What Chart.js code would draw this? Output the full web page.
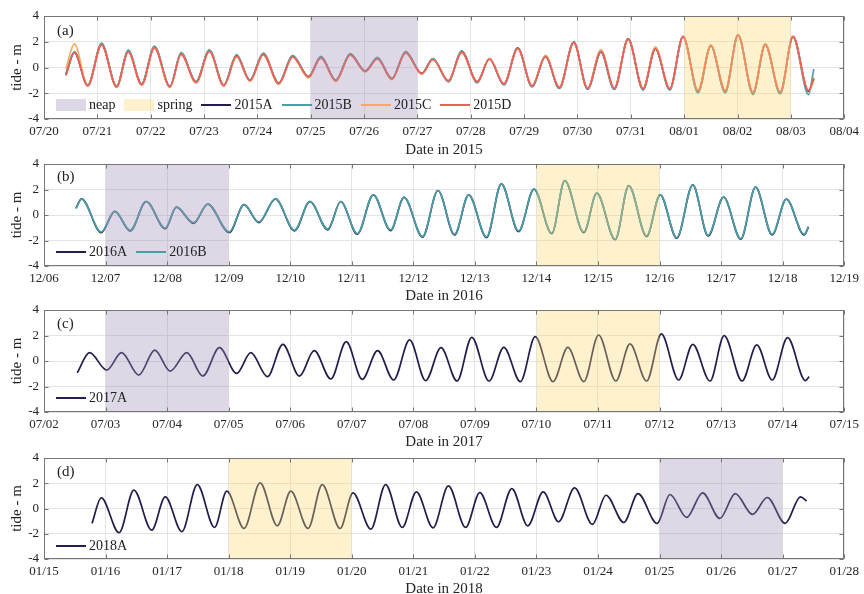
<!DOCTYPE html>
<html>
<head>
<meta charset="utf-8">
<script src="https://cdn.jsdelivr.net/npm/chart.js@4/dist/chart.umd.min.js"></script>
<style>
  body { margin: 0; width: 864px; height: 594px; overflow: hidden; background: #fff; position: relative;
         font-family: "Liberation Serif", "Times New Roman", serif; color: #222; }
  canvas { position: absolute; left: 0; }
  .tag { position: absolute; left: 57px; font-size: 15px; line-height: 16px; }
  .legend { position: absolute; left: 56px; display: flex; align-items: center; gap: 9px;
            font-size: 14px; height: 16px; line-height: 16px; }
  .item { display: flex; align-items: center; }
  .sw { display: inline-block; width: 30px; margin-right: 3px; }
</style>
</head>
<body>
<canvas id="pa" width="864" height="158" style="top:0px"></canvas>
<canvas id="pb" width="864" height="156" style="top:148px"></canvas>
<canvas id="pc" width="864" height="156" style="top:294px"></canvas>
<canvas id="pd" width="864" height="155" style="top:442px"></canvas>
<div class="tag" style="top:22px">(a)</div>
<div class="tag" style="top:168px">(b)</div>
<div class="tag" style="top:315px">(c)</div>
<div class="tag" style="top:463px">(d)</div>
<script>
// tick labels (one per day)
const daysA = ['07/20','07/21','07/22','07/23','07/24','07/25','07/26','07/27','07/28','07/29','07/30','07/31','08/01','08/02','08/03','08/04'];
const daysB = ['12/06','12/07','12/08','12/09','12/10','12/11','12/12','12/13','12/14','12/15','12/16','12/17','12/18','12/19'];
const daysC = ['07/02','07/03','07/04','07/05','07/06','07/07','07/08','07/09','07/10','07/11','07/12','07/13','07/14','07/15'];
const daysD = ['01/15','01/16','01/17','01/18','01/19','01/20','01/21','01/22','01/23','01/24','01/25','01/26','01/27','01/28'];

// neap / spring periods, days from first tick
const neapA = [5, 7], springA = [12, 14];
const neapB = [1, 3], springB = [8, 10];
const neapC = [1, 3], springC = [8, 10];
const springD = [3, 5], neapD = [10, 12];

// 2015: high / low water times (days after 07/20) and levels (m)
const tA = [0.41,0.57,0.82,1.08,1.36,1.58,1.83,2.07,2.36,2.57,2.85,3.10,3.37,3.61,3.86,4.11,4.40,4.66,4.96,5.19,
            5.47,5.74,6.02,6.25,6.52,6.78,7.08,7.29,7.58,7.83,8.12,8.35,8.62,8.88,9.15,9.40,9.66,9.93,10.19,10.44,
            10.69,10.95,11.23,11.46,11.73,11.98,12.26,12.50,12.77,13.01,13.29,13.52,13.80,14.04,14.33,14.43];
const tide2015A = [-0.55,1.18,-1.39,1.80,-1.49,1.27,-1.31,1.58,-1.49,1.08,-1.13,1.32,-1.39,0.92,-1.00,1.06,-1.23,0.88,-0.71,0.80,
                   -1.00,1.02,-0.27,0.71,-0.86,1.18,-0.45,0.68,-1.05,1.25,-1.13,0.68,-1.31,1.53,-1.47,0.88,-1.60,1.98,-1.68,1.22,
                   -1.68,2.22,-1.68,1.47,-1.68,2.40,-1.88,1.69,-1.88,2.52,-2.00,1.80,-1.97,2.40,-1.85,-0.90];
const tide2015B = [-0.50,1.22,-1.36,1.90,-1.45,1.35,-1.28,1.66,-1.45,1.15,-1.10,1.38,-1.36,1.00,-0.98,1.12,-1.20,0.95,-0.70,0.86,
                   -0.98,1.08,-0.26,0.78,-0.88,1.25,-0.50,0.70,-1.12,1.28,-1.20,0.70,-1.36,1.52,-1.50,0.86,-1.62,1.95,-1.68,1.20,
                   -1.70,2.20,-1.75,1.45,-1.75,2.38,-1.98,1.68,-1.98,2.50,-2.10,1.78,-2.05,2.38,-2.10,-0.13];
const tide2015C = [-0.10,1.83,-1.42,1.75,-1.55,1.22,-1.38,1.52,-1.55,1.02,-1.20,1.25,-1.45,0.85,-1.08,0.98,-1.30,0.80,-0.80,0.72,
                   -1.08,0.95,-0.35,0.65,-0.95,1.10,-0.52,0.62,-1.02,1.15,-1.10,0.72,-1.25,1.45,-1.40,0.95,-1.52,1.90,-1.60,1.40,
                   -1.60,2.15,-1.62,1.60,-1.62,2.35,-1.75,1.75,-1.78,2.45,-1.90,1.85,-1.88,2.35,-1.75,-1.05];
const tide2015D = [-0.62,1.15,-1.42,1.75,-1.50,1.22,-1.33,1.52,-1.50,1.02,-1.15,1.25,-1.40,0.88,-1.02,1.02,-1.25,0.82,-0.73,0.75,
                   -1.02,0.98,-0.30,0.68,-0.88,1.15,-0.47,0.62,-1.03,1.20,-1.10,0.65,-1.28,1.48,-1.42,0.85,-1.55,1.95,-1.62,1.25,
                   -1.62,2.20,-1.65,1.45,-1.65,2.42,-1.82,1.70,-1.82,2.55,-1.95,1.78,-1.92,2.42,-1.80,-0.80];

// 2016
const tB = [0.52,0.61,0.93,1.15,1.40,1.66,1.97,2.15,2.43,2.66,3.01,3.25,3.49,3.76,4.07,4.32,4.61,4.82,5.09,5.35,
            5.63,5.85,6.15,6.40,6.67,6.90,7.19,7.43,7.71,7.96,8.25,8.46,8.77,8.98,9.28,9.50,9.79,10.01,10.28,10.54,
            10.79,11.04,11.32,11.56,11.83,12.06,12.35,12.42];
const tide2016A = [0.55,1.27,-1.38,0.29,-1.25,1.06,-1.08,0.62,-0.65,0.86,-1.38,0.81,-0.60,1.27,-1.24,1.06,-1.16,1.06,-1.50,1.58,
                   -1.22,1.38,-1.73,1.92,-1.56,1.58,-1.77,2.44,-1.30,2.03,-1.47,2.70,-1.38,1.71,-1.94,2.31,-1.68,1.58,-1.82,2.36,
                   -1.64,1.40,-1.90,2.18,-1.56,1.25,-1.56,-0.94];
const tide2016B = [0.50,1.25,-1.33,0.30,-1.20,1.06,-1.03,0.62,-0.60,0.86,-1.33,0.81,-0.55,1.27,-1.19,1.06,-1.11,1.06,-1.45,1.58,
                   -1.17,1.38,-1.68,1.92,-1.51,1.58,-1.72,2.44,-1.25,2.03,-1.42,2.70,-1.33,1.71,-1.89,2.31,-1.63,1.58,-1.77,2.36,
                   -1.59,1.40,-1.85,2.18,-1.51,1.25,-1.51,-0.90];

// 2017
const tC = [0.54,0.74,1.02,1.26,1.54,1.80,2.05,2.32,2.58,2.85,3.13,3.36,3.63,3.88,4.15,4.39,4.66,4.91,5.17,5.42,
            5.68,5.94,6.20,6.45,6.71,6.95,7.23,7.47,7.74,7.98,8.27,8.51,8.77,9.01,9.29,9.52,9.79,10.03,10.31,10.54,
            10.82,11.05,11.34,11.58,11.83,12.08,12.37,12.43];
const tide2017A = [-0.92,0.65,-0.71,0.65,-1.10,0.86,-0.79,0.65,-1.18,1.05,-0.97,0.65,-1.23,1.31,-1.18,0.81,-1.41,1.52,-1.44,0.81,
                   -1.49,1.65,-1.54,1.05,-1.57,1.86,-1.57,1.07,-1.62,1.91,-1.62,1.07,-1.62,2.04,-1.57,1.34,-1.57,2.12,-1.49,1.31,
                   -1.57,1.99,-1.57,1.26,-1.49,1.83,-1.54,-1.23];

// 2018
const tD = [0.78,0.93,1.22,1.46,1.75,1.97,2.24,2.49,2.77,2.97,3.25,3.51,3.79,4.01,4.29,4.52,4.81,5.02,5.31,5.55,
            5.82,6.05,6.32,6.57,6.85,7.08,7.35,7.60,7.86,8.11,8.36,8.62,8.91,9.13,9.42,9.65,9.96,10.17,10.44,10.70,
            10.98,11.23,11.51,11.75,12.04,12.29,12.39];
const tide2018A = [-1.18,0.84,-1.92,1.45,-1.71,0.92,-1.84,1.89,-1.50,1.37,-1.58,2.03,-1.37,1.37,-1.58,1.89,-1.58,1.24,-1.63,1.89,
                   -1.50,1.32,-1.53,1.79,-1.50,1.26,-1.50,1.58,-1.37,1.32,-1.05,1.63,-1.26,1.05,-1.11,1.18,-1.18,1.11,-0.71,1.24,
                   -0.79,1.18,-0.47,0.87,-1.18,0.92,0.58];

const NAVY = '#231d4b', TEAL = '#4c9ea6', ORANGE = '#f6ab60', RED = '#ef5f5a';
const NEAP = 'rgba(161,141,181,0.35)', SPRING = 'rgba(249,218,112,0.35)';
const SERIF = '"Liberation Serif", "Times New Roman", serif';
const INK = '#262626';

// box + inward tick marks, like the matlab axes
const frame = {
  id: 'frame',
  afterDraw(chart) {
    const { ctx, chartArea: a, scales: { x, y } } = chart;
    const L = Math.round(a.left) + 0.5, R = Math.round(a.right) - 0.5;
    const T = Math.round(a.top) + 0.5, B = Math.round(a.bottom) - 0.5;
    ctx.save();
    ctx.strokeStyle = '#767676';
    ctx.lineWidth = 1;
    ctx.beginPath();
    x.ticks.forEach(t => {
      const px = Math.round(x.getPixelForValue(t.value)) + 0.5;
      ctx.moveTo(px, B); ctx.lineTo(px, B - 4);
      ctx.moveTo(px, T); ctx.lineTo(px, T + 4);
    });
    y.ticks.forEach(t => {
      const py = Math.round(y.getPixelForValue(t.value)) + 0.5;
      ctx.moveTo(L, py); ctx.lineTo(L + 4, py);
      ctx.moveTo(R, py); ctx.lineTo(R - 4, py);
    });
    ctx.stroke();
    ctx.strokeRect(L, T, R - L, B - T);
    ctx.restore();
  }
};

function shade(range, color) {
  return {
    data: [{ x: range[0], y: 4 }, { x: range[1], y: 4 }],
    fill: 'start', backgroundColor: color, borderColor: 'transparent',
    borderWidth: 0, pointRadius: 0, order: -1
  };
}

function panel(id, days, lines, neap, spring, xh, xTitle) {
  const datasets = [shade(neap, NEAP), shade(spring, SPRING)];
  lines.forEach((s, i) => {
    datasets.push({
      label: s.name,
      data: s.t.map((t, k) => ({ x: t, y: s.v[k] })),
      borderColor: s.color, borderWidth: 1.7, pointRadius: 0,
      cubicInterpolationMode: 'monotone', fill: false,
      order: lines.length - i
    });
  });
  return new Chart(document.getElementById(id), {
    type: 'line',
    data: { datasets },
    options: {
      responsive: false, animation: false, events: [],
      layout: { padding: { top: 16, right: 17, left: 0, bottom: 0 } },
      plugins: { legend: { display: false }, tooltip: { enabled: false } },
      scales: {
        x: {
          type: 'linear', min: 0, max: days.length - 1,
          afterFit: s => { s.height = xh; },
          ticks: {
            stepSize: 1, maxTicksLimit: 30, autoSkip: false, maxRotation: 0, padding: 5,
            color: INK, font: { family: SERIF, size: 13 },
            callback: v => days[Math.round(v)]
          },
          grid: { color: '#e4e4e4', drawTicks: false },
          border: { display: false },
          title: { display: true, text: xTitle, color: INK, padding: 0,
                   font: { family: SERIF, size: 15, lineHeight: 1 } }
        },
        y: {
          min: -4, max: 4,
          afterFit: s => { s.width = 44; },
          ticks: { stepSize: 2, padding: 5, color: INK, font: { family: SERIF, size: 13 } },
          grid: { color: '#e4e4e4', drawTicks: false },
          border: { display: false },
          title: { display: true, text: 'tide - m', color: INK, padding: { top: 10, bottom: 0 },
                   font: { family: SERIF, size: 15, lineHeight: 1 } }
        }
      }
    },
    plugins: [frame]
  });
}

function legend(top, items) {
  const box = document.createElement('div');
  box.className = 'legend';
  box.style.top = top + 'px';
  items.forEach(it => {
    const d = document.createElement('div');
    d.className = 'item';
    const sw = document.createElement('span');
    sw.className = 'sw';
    sw.style.height = it.box ? '12px' : '2px';
    sw.style.background = it.color;
    const tx = document.createElement('span');
    tx.textContent = it.label;
    d.append(sw, tx);
    box.append(d);
  });
  document.body.append(box);
}

const linesA = [
  { name: '2015A', t: tA, v: tide2015A, color: NAVY },
  { name: '2015B', t: tA, v: tide2015B, color: TEAL },
  { name: '2015C', t: tA, v: tide2015C, color: ORANGE },
  { name: '2015D', t: tA, v: tide2015D, color: RED }
];
const linesB = [
  { name: '2016A', t: tB, v: tide2016A, color: NAVY },
  { name: '2016B', t: tB, v: tide2016B, color: TEAL }
];
const linesC = [{ name: '2017A', t: tC, v: tide2017A, color: NAVY }];
const linesD = [{ name: '2018A', t: tD, v: tide2018A, color: NAVY }];

panel('pa', daysA, linesA, neapA, springA, 39, 'Date in 2015');
panel('pb', daysB, linesB, neapB, springB, 38, 'Date in 2016');
panel('pc', daysC, linesC, neapC, springC, 38, 'Date in 2017');
panel('pd', daysD, linesD, neapD, springD, 38, 'Date in 2018');

const lineItems = ls => ls.map(s => ({ label: s.name, color: s.color }));
legend(97, [{ label: 'neap', color: NEAP, box: true }, { label: 'spring', color: SPRING, box: true }].concat(lineItems(linesA)));
legend(244, lineItems(linesB));
legend(390, lineItems(linesC));
legend(538, lineItems(linesD));
</script>
</body>
</html>
